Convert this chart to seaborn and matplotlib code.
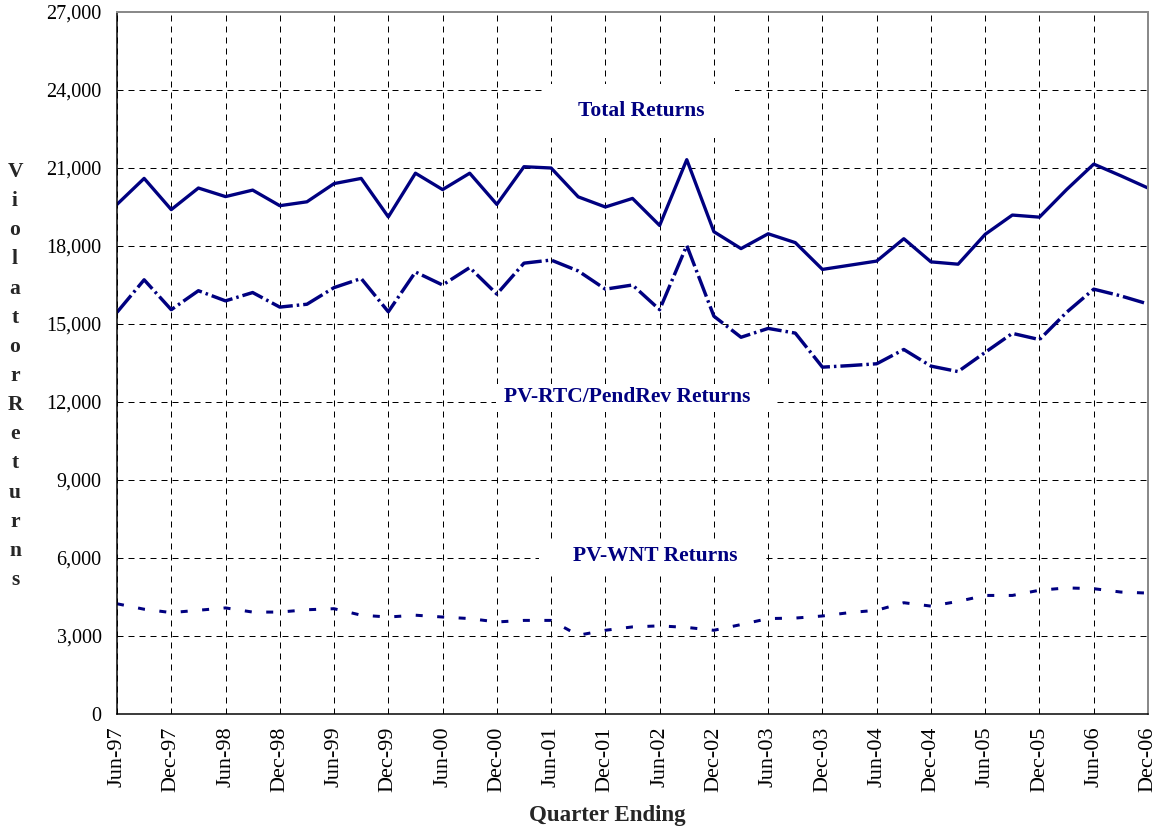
import numpy as np
import pandas as pd
import matplotlib
matplotlib.use("Agg")
import matplotlib.pyplot as plt
import seaborn as sns
from matplotlib.ticker import FuncFormatter
from matplotlib.patches import Rectangle

# ---------------- data ----------------
quarter_index = list(range(39))  # Jun-97 ... Dec-06, quarterly

tick_labels = ["Jun-97", "Dec-97", "Jun-98", "Dec-98", "Jun-99", "Dec-99",
               "Jun-00", "Dec-00", "Jun-01", "Dec-01", "Jun-02", "Dec-02",
               "Jun-03", "Dec-03", "Jun-04", "Dec-04", "Jun-05", "Dec-05",
               "Jun-06", "Dec-06"]

total_returns = [19600, 20600, 19400, 20230, 19900, 20150, 19550, 19700, 20400,
                 20600, 19120, 20800, 20170, 20800, 19600, 21050, 21000, 19890,
                 19500, 19830, 18790, 21320, 18550, 17900, 18470, 18130, 17100,
                 17260, 17420, 18280, 17390, 17300, 18450, 19190, 19110, 20170,
                 21150, 20700, 20230]

rtc_returns = [15450, 16700, 15550, 16280, 15890, 16210, 15650, 15760, 16400,
               16750, 15470, 17000, 16500, 17170, 16150, 17340, 17460, 17040,
               16340, 16500, 15550, 18020, 15300, 14490, 14830, 14650, 13340,
               13400, 13470, 14020, 13380, 13170, 13910, 14640, 14400, 15450,
               16340, 16080, 15770]

wnt_returns = [4240, 4030, 3900, 3990, 4080, 3920, 3920, 4010, 4050, 3800,
               3730, 3800, 3730, 3670, 3540, 3600, 3600, 3030, 3220, 3350,
               3390, 3330, 3220, 3440, 3670, 3690, 3770, 3900, 3990, 4280,
               4150, 4330, 4560, 4560, 4760, 4850, 4820, 4690, 4650]

series_labels = ["Total Returns", "PV-RTC/PendRev Returns", "PV-WNT Returns"]
y_ticks = [0, 3000, 6000, 9000, 12000, 15000, 18000, 21000, 24000, 27000]

# ---------------- style ----------------
sns.set_style("white")
plt.rcParams["font.family"] = ["Liberation Serif", "DejaVu Serif"]
plt.rcParams["lines.scale_dashes"] = False

NAVY = "#000080"
W, H = 1160, 831
PX = 0.72  # points per pixel at dpi 100

df = pd.DataFrame({"q": quarter_index, "total": total_returns,
                   "rtc": rtc_returns, "wnt": wnt_returns})

fig = plt.figure(figsize=(W / 100, H / 100), dpi=100)
fig.patch.set_facecolor("white")
ax = fig.add_axes([117 / W, 1 - 714 / H, (1148 - 117) / W, (714 - 12) / H])

sns.lineplot(data=df, x="q", y="total", ax=ax, color=NAVY, lw=3.3 * PX)
l_total = ax.lines[-1]
sns.lineplot(data=df, x="q", y="rtc", ax=ax, color=NAVY, lw=3.4 * PX)
l_rtc = ax.lines[-1]
sns.lineplot(data=df, x="q", y="wnt", ax=ax, color=NAVY, lw=3.0 * PX)
l_wnt = ax.lines[-1]

l_total.set_solid_joinstyle("round")
l_total.set_solid_capstyle("round")
l_rtc.set_linestyle((0, (22 * PX, 4 * PX, 2.5 * PX, 4 * PX)))
l_rtc.set_dash_capstyle("butt")
l_rtc.set_dash_joinstyle("round")
l_wnt.set_linestyle((0, (7 * PX, 14.5 * PX)))
l_wnt.set_dash_capstyle("butt")

ax.set_xlim(0, 38)
ax.set_ylim(0, 27000)
ax.set_xticks(quarter_index[::2])
ax.set_xticklabels(tick_labels, rotation=90)
ax.set_yticks(y_ticks)
ax.yaxis.set_major_formatter(FuncFormatter(lambda v, p: f"{v:,.0f}"))
ax.set_xlabel("")
ax.set_ylabel("")

ax.set_axisbelow(True)
ax.grid(True, color="black", linestyle=(0, (6 * PX, 5 * PX)), lw=1.0 * PX)

for s in ["left", "bottom"]:
    ax.spines[s].set_color("black")
    ax.spines[s].set_linewidth(1.5 * PX)
for s in ["top", "right"]:
    ax.spines[s].set_color("#8a8a8a")
    ax.spines[s].set_linewidth(2 * PX)
    ax.spines[s].set_visible(True)

ax.tick_params(axis="both", direction="out", length=7 * PX, width=1.2 * PX,
               colors="black")
ax.tick_params(axis="y", labelsize=14.5, pad=6)
ax.tick_params(axis="x", labelsize=16, pad=4)

# white boxes behind series labels (Excel text boxes)
box_specs = [(545, 84, 190, 54), (496, 384, 281, 28), (539, 542, 227, 30)]
for (bx, by, bw, bh) in box_specs:
    ax.add_patch(Rectangle((bx / W, 1 - (by + bh) / H), bw / W, bh / H,
                           transform=fig.transFigure, facecolor="white",
                           edgecolor="none", zorder=1))

label_pos = [(641, 111), (627, 397), (655, 556)]
for text, (tx, ty) in zip(series_labels, label_pos):
    fig.text(tx / W, 1 - ty / H, text, color=NAVY, fontsize=15.5,
             fontweight="bold", ha="center", va="center", zorder=5)

# axis titles
fig.text(607 / W, 1 - 815 / H, "Quarter Ending", fontsize=16.5,
         fontweight="bold", ha="center", va="center")
ylabel_letters = list("ViolatorReturns")
for i, ch in enumerate(ylabel_letters):
    fig.text(15 / W, 1 - (172 + i * 29.14) / H, ch, fontsize=15.5,
             fontweight="bold", ha="center", va="center")

fig.savefig("out.png", dpi=100, facecolor="white")
